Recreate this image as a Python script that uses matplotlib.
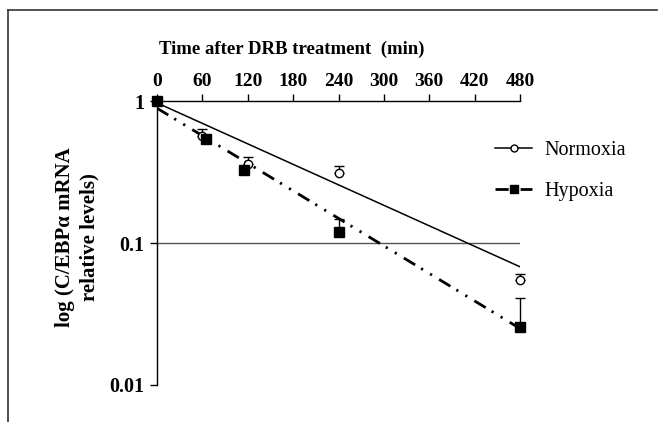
import numpy as np
import matplotlib
matplotlib.use("Agg")
import matplotlib.pyplot as plt
from matplotlib.lines import Line2D

plt.rcParams['font.family'] = ['Liberation Serif', 'DejaVu Serif']
plt.rcParams['lines.scale_dashes'] = False

# time points (min)
time_norm = [0, 60, 120, 240, 480]
time_hyp = [0, 65, 115, 240, 480]
normoxia = [1.0, 0.567, 0.36, 0.313, 0.055]
normoxia_err = [0.0, 0.068, 0.045, 0.035, 0.0055]
hypoxia = [1.0, 0.54, 0.325, 0.12, 0.0257]
hypoxia_err = [0.0, 0.0, 0.0, 0.027, 0.0153]

# exponential trend lines (values at 0 and 480 min)
fit_x = [0, 480]
normoxia_fit = [0.97, 0.068]
hypoxia_fit = [0.89, 0.025]

xticks = [0, 60, 120, 180, 240, 300, 360, 420, 480]
yticks = [1, 0.1, 0.01]
yticklabels = ['1', '0.1', '0.01']

fig = plt.figure(figsize=(6.6, 4.22), dpi=100)
ax = fig.add_axes([157/660, 1-385/422, 363/660, 284/422])

ax.set_yscale('log')
ax.set_xlim(0, 480)
ax.set_ylim(0.01, 1)

# 0.1 reference line
ax.axhline(0.1, color='#555555', lw=1.0, zorder=1)

# trend lines
ax.plot(fit_x, normoxia_fit, color='black', lw=1.1, zorder=2)
ax.plot(fit_x, hypoxia_fit, color='black', lw=2.0,
        dashes=(9.5, 5, 1.6, 6, 1.6, 6), zorder=2)

# error bars (upper only)
ax.errorbar(time_norm, normoxia, yerr=[np.zeros(5), normoxia_err], fmt='none',
            ecolor='black', elinewidth=1.0, capsize=3.5, capthick=1.0, clip_on=False)
ax.errorbar(time_hyp, hypoxia, yerr=[np.zeros(5), hypoxia_err], fmt='none',
            ecolor='black', elinewidth=1.0, capsize=3.5, capthick=1.0, clip_on=False)

# data points
ax.plot(time_norm, normoxia, 'o', color='black', mfc='white', ms=6, mew=1.0,
        clip_on=False, zorder=4)
ax.plot(time_hyp, hypoxia, 's', color='black', ms=7, clip_on=False, zorder=4)

# axes styling: top x axis, left y axis
for s in ['bottom', 'right']:
    ax.spines[s].set_visible(False)
ax.spines['top'].set_linewidth(1.0)
ax.spines['left'].set_linewidth(1.0)
ax.xaxis.set_ticks_position('top')
ax.xaxis.set_label_position('top')
ax.set_xticks(xticks)
ax.set_xticklabels([str(t) for t in xticks], fontsize=14, fontweight='bold')
ax.tick_params(axis='x', direction='out', length=5, width=1.0, pad=3)
ax.set_yticks(yticks)
ax.set_yticklabels(yticklabels, fontsize=14.5, fontweight='bold')
ax.yaxis.set_minor_locator(matplotlib.ticker.NullLocator())
ax.tick_params(axis='y', direction='out', length=5, width=1.0, pad=4)

ax.set_xlabel('Time after DRB treatment  (min)', fontsize=13.5, fontweight='bold')
ax.xaxis.set_label_coords((292-157)/363, 1 + (101-54)/284)
ax.set_ylabel('log (C/EBP\u03b1 mRNA\nrelative levels)', fontsize=15,
              fontweight='bold', linespacing=1.25)
ax.yaxis.set_label_coords((99-157)/363, (385-237)/284)

# legend
h1 = Line2D([], [], color='black', lw=1.1, marker='o', mfc='white', ms=5, mew=1.0)
h2 = Line2D([], [], color='black', lw=2.0, dashes=(9.5, 3, 1.6, 4),
            marker='s', ms=6)
fig.legend([h1, h2], ['Normoxia', 'Hypoxia'], loc='upper left',
           bbox_to_anchor=(495/660, 1-141/422), frameon=False, fontsize=14.5,
           handlelength=1.85, handletextpad=0.6, labelspacing=1.1,
           borderpad=0, borderaxespad=0)

# outer frame (top and left edges)
fig.add_artist(Line2D([8/660, 657/660], [1-10/422, 1-10/422],
                      transform=fig.transFigure, color='#333333', lw=1.2))
fig.add_artist(Line2D([8/660, 8/660], [1-10/422, 0],
                      transform=fig.transFigure, color='#333333', lw=1.2))

fig.savefig('out.png', dpi=100)
